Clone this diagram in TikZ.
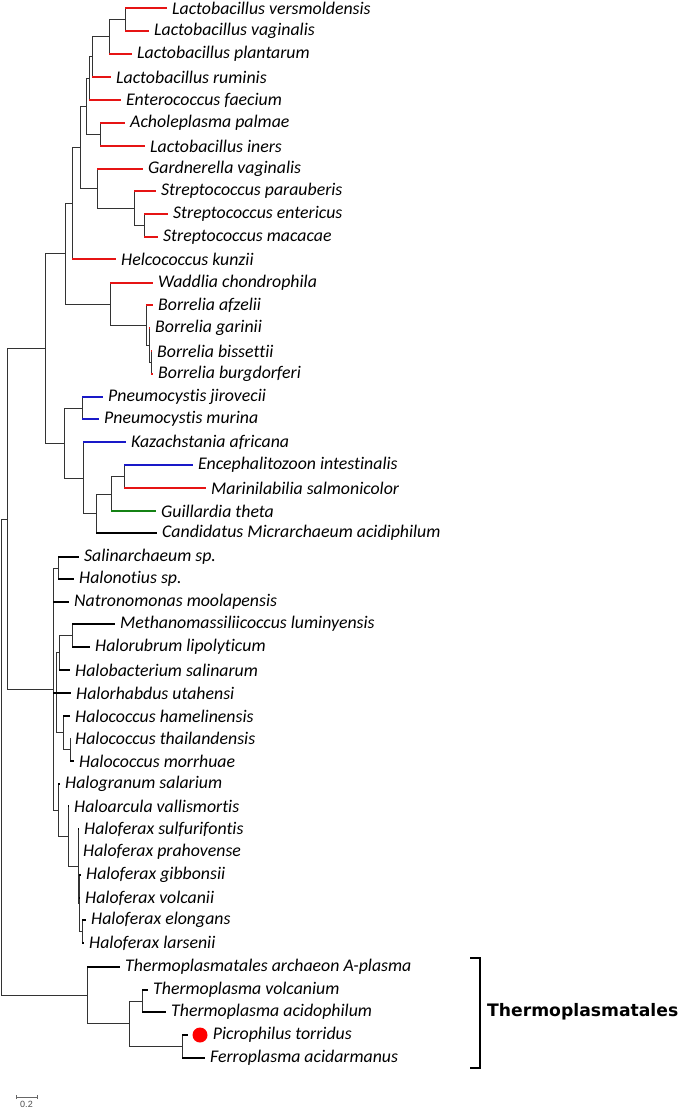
\documentclass[tikz,border=0pt]{standalone}
\usepackage{fontspec}
\setmainfont[Ligatures=NoCommon]{Carlito}
\newfontfamily\boldlabfont{DejaVu Sans}
\newfontfamily\scalebarfont{Liberation Sans}
\definecolor{tred}{RGB}{230,20,20}
\definecolor{tblue}{RGB}{25,25,200}
\definecolor{tgreen}{RGB}{20,130,20}
\definecolor{tblack}{RGB}{0,0,0}
\newcommand{\leafnode}[6]{%
  \node[lab] (#1) at (#2,#3) {#6};
  \draw[inl] (#4) -- (#4 |- #1.west);
  \draw[br,#5] (#4 |- #1.west) -- (#1.west);
}
\newcommand{\inedge}[2]{\draw[inl] (#1) |- (#2);}
\begin{document}
\begin{tikzpicture}[x=1pt,y=-1pt,
  inl/.style={draw=black!80, line width=0.9pt, line cap=rect},
  br/.style={line width=1.9pt},
  lab/.style={anchor=west, inner xsep=5pt, inner ysep=0pt, font=\fontsize{17.8}{20}\selectfont\itshape},
  dotnode/.style={circle, fill=red, inner sep=0pt, minimum size=15pt},
  bigl/.style={font=\boldlabfont\bfseries\fontsize{17.2}{20}\selectfont, anchor=west, inner sep=0pt},
  brk/.style={draw=black, line width=1.3pt},
  sbar/.style={draw=black!60, line width=1pt}
]
\useasboundingbox (0,0) rectangle (680,1109);

% ---------- internal nodes (upper clade) ----------
\coordinate (N1) at (125,19.5);
\coordinate (N2) at (109,36.8);
\coordinate (N3) at (92,56.9);
\coordinate (N4) at (89,78.4);
\coordinate (N5) at (100,134.5);
\coordinate (N6) at (86,106.5);
\coordinate (N9) at (144,225.5);
\coordinate (N8) at (134,208);
\coordinate (N7) at (97,188.5);
\coordinate (NA) at (80,147.5);
\coordinate (N10) at (72,203);
\coordinate (NB3) at (151,362.5);
\coordinate (NB2) at (149,345);
\coordinate (NB1) at (146,325);
\coordinate (N12) at (110,304);
\coordinate (N11) at (65,253.5);
\coordinate (NP) at (82,408);
\coordinate (NE) at (124,476.5);
\coordinate (NG) at (111,494);
\coordinate (NC) at (96,513.5);
\coordinate (NK) at (83,478);
\coordinate (NF) at (64,443);
\coordinate (NU) at (45,348);
\coordinate (NR1) at (7,519.5);
% ---------- halo clade ----------
\coordinate (NS) at (58,568);
\coordinate (NM) at (72,635.5);
\coordinate (NMH) at (59,652.8);
\coordinate (NHC2) at (70,749.5);
\coordinate (NHC) at (63,732.8);
\coordinate (NX) at (56,692.8);
\coordinate (NF4) at (82,931.5);
\coordinate (NF3) at (79,903);
\coordinate (NF2) at (78,866);
\coordinate (NAR) at (68,836);
\coordinate (NGR) at (58,810);
\coordinate (NH) at (53,689);
% ---------- thermoplasmatales ----------
\coordinate (NTV) at (142,1001);
\coordinate (NPF) at (182,1046.5);
\coordinate (NTP) at (129,1023.8);
\coordinate (NT) at (87,995.4);
\coordinate (ROOT) at (1,757);

% internal edges
\inedge{ROOT}{NR1} \inedge{ROOT}{NT}
\inedge{NR1}{NU} \inedge{NR1}{NH}
\inedge{NU}{N11} \inedge{NU}{NF}
\inedge{N11}{N10} \inedge{N11}{N12}
\inedge{N10}{NA}
\inedge{NA}{N6} \inedge{NA}{N7}
\inedge{N6}{N4} \inedge{N6}{N5}
\inedge{N4}{N3} \inedge{N3}{N2} \inedge{N2}{N1}
\inedge{N7}{N8} \inedge{N8}{N9}
\inedge{N12}{NB1} \inedge{NB1}{NB2} \inedge{NB2}{NB3}
\inedge{NF}{NP} \inedge{NF}{NK}
\inedge{NK}{NC} \inedge{NC}{NG} \inedge{NG}{NE}
\inedge{NH}{NS} \inedge{NH}{NX} \inedge{NH}{NGR}
\inedge{NX}{NMH} \inedge{NX}{NHC}
\inedge{NMH}{NM} \inedge{NHC}{NHC2}
\inedge{NGR}{NAR} \inedge{NAR}{NF2} \inedge{NF2}{NF3} \inedge{NF3}{NF4}
\inedge{NT}{NTP} \inedge{NTP}{NTV} \inedge{NTP}{NPF}

% ---------- leaves ----------
\leafnode{L1}{167}{8}{N1}{tred}{Lactobacillus versmoldensis}
\leafnode{L2}{149}{31}{N1}{tred}{Lactobacillus vaginalis}
\leafnode{L3}{132}{54}{N2}{tred}{Lactobacillus plantarum}
\leafnode{L4}{111}{77}{N3}{tred}{Lactobacillus ruminis}
\leafnode{L5}{121}{100}{N4}{tred}{Enterococcus faecium}
\leafnode{L6}{125}{123}{N5}{tred}{Acholeplasma palmae}
\leafnode{L7}{145}{146}{N5}{tred}{Lactobacillus iners}
\leafnode{L8}{143}{169}{N7}{tred}{Gardnerella vaginalis}
\leafnode{L9}{156}{191}{N8}{tred}{Streptococcus parauberis}
\leafnode{L10}{168}{214}{N9}{tred}{Streptococcus entericus}
\leafnode{L11}{158}{237}{N9}{tred}{Streptococcus macacae}
\leafnode{L12}{116}{259}{N10}{tred}{Helcococcus kunzii}
\leafnode{L13}{153}{283}{N12}{tred}{Waddlia chondrophila}
\leafnode{L14}{153}{305}{NB1}{tred}{Borrelia afzelii}
\leafnode{L15}{150}{328}{NB2}{tred}{Borrelia garinii}
\leafnode{L16}{152}{351}{NB3}{tred}{Borrelia bissettii}
\leafnode{L17}{153}{374}{NB3}{tred}{Borrelia burgdorferi}
\leafnode{L18}{103}{397}{NP}{tblue}{Pneumocystis jirovecii}
\leafnode{L19}{99}{419}{NP}{tblue}{Pneumocystis murina}
\leafnode{L20}{126}{442}{NK}{tblue}{Kazachstania africana}
\leafnode{L21}{193}{465}{NE}{tblue}{Encephalitozoon intestinalis}
\leafnode{L22}{206}{488}{NE}{tred}{Marinilabilia salmonicolor}
\leafnode{L23}{156}{511}{NG}{tgreen}{Guillardia theta}
\leafnode{L24}{157}{533}{NC}{tblack}{Candidatus Micrarchaeum acidiphilum}
\leafnode{L25}{79}{557}{NS}{tblack}{Salinarchaeum sp.}
\leafnode{L26}{74}{579}{NS}{tblack}{Halonotius sp.}
\leafnode{L27}{69}{602}{NH}{tblack}{Natronomonas moolapensis}
\leafnode{L28}{115}{624}{NM}{tblack}{Methanomassiliicoccus luminyensis}
\leafnode{L29}{90}{647}{NM}{tblack}{Halorubrum lipolyticum}
\leafnode{L30}{70}{670}{NMH}{tblack}{Halobacterium salinarum}
\leafnode{L31}{71}{693}{NH}{tblack}{Halorhabdus utahensi}
\leafnode{L32}{70}{716}{NHC}{tblack}{Halococcus hamelinensis}
\leafnode{L33}{70}{738}{NHC2}{tblack}{Halococcus thailandensis}
\leafnode{L34}{74}{761}{NHC2}{tblack}{Halococcus morrhuae}
\leafnode{L35}{60}{784}{NGR}{tblack}{Halogranum salarium}
\leafnode{L36}{69}{806}{NAR}{tblack}{Haloarcula vallismortis}
\leafnode{L37}{79}{829}{NF2}{tblack}{Haloferax sulfurifontis}
\leafnode{L38}{78}{852}{NF2}{tblack}{Haloferax prahovense}
\leafnode{L39}{81}{875}{NF3}{tblack}{Haloferax gibbonsii}
\leafnode{L40}{80}{898}{NF3}{tblack}{Haloferax volcanii}
\leafnode{L41}{86}{920}{NF4}{tblack}{Haloferax elongans}
\leafnode{L42}{84}{943}{NF4}{tblack}{Haloferax larsenii}
\leafnode{L43}{120}{967}{NT}{tblack}{Thermoplasmatales archaeon A-plasma}
\leafnode{L44}{148}{990}{NTV}{tblack}{Thermoplasma volcanium}
\leafnode{L45}{166}{1012}{NTV}{tblack}{Thermoplasma acidophilum}
\node[dotnode] (DOT) at (200,1035) {};
\node[lab] (L46) at (DOT.east) {Picrophilus torridus};
\coordinate (T46) at (188,1035);
\draw[inl] (NPF) -- (NPF |- T46);
\draw[br,tblack] (NPF |- T46) -- (T46);
\leafnode{L47}{205}{1058}{NPF}{tblack}{Ferroplasma acidarmanus}

% ---------- bracket ----------
\coordinate (BT) at (480,958);
\coordinate (BB) at (480,1068);
\draw[brk] (470,958) -- (BT) -- (BB) -- (470,1068);
\node[bigl] (TH) at (487,1012) {Thermoplasmatales};

% ---------- scale bar ----------
\coordinate (SA) at (16,1097);
\coordinate (SB) at (37,1097);
\draw[sbar] (SA) -- (SB);
\draw[sbar] ([yshift=-2]SA) -- ([yshift=2]SA);
\draw[sbar] ([yshift=-2]SB) -- ([yshift=2]SB);
\node[font=\scalebarfont\fontsize{9}{10}\selectfont, text=black!70, inner sep=0pt] (SL) at (26.5,1104) {0.2};
\end{tikzpicture}
\end{document}
